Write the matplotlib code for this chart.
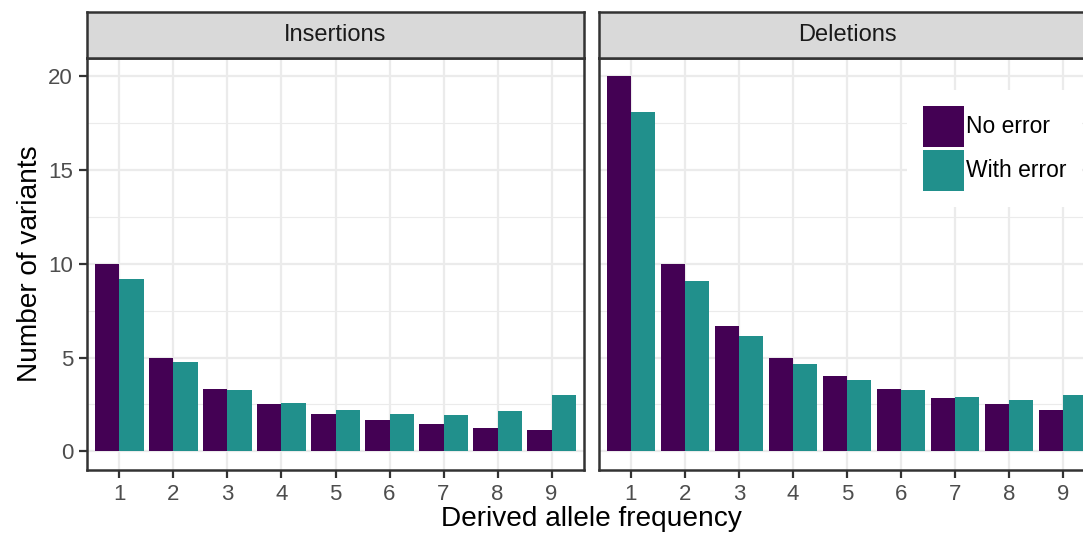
import numpy as np
import matplotlib
matplotlib.use("Agg")
import matplotlib.pyplot as plt
from matplotlib.patches import Patch

plt.rcParams['font.family'] = ['Liberation Sans', 'DejaVu Sans']

# Data
freqs = [1, 2, 3, 4, 5, 6, 7, 8, 9]
ins_no_error = [10.0, 5.0, 3.33, 2.5, 2.0, 1.67, 1.43, 1.25, 1.11]
ins_with_error = [9.2, 4.77, 3.27, 2.56, 2.18, 1.98, 1.92, 2.14, 2.99]
del_no_error = [20.0, 10.0, 6.67, 5.0, 4.0, 3.33, 2.86, 2.5, 2.22]
del_with_error = [18.1, 9.1, 6.16, 4.67, 3.8, 3.27, 2.89, 2.73, 2.99]
panels = ["Insertions", "Deletions"]
series = ["No error", "With error"]
colors = ["#440154", "#21908C"]

W, H = 1083, 536
fig = plt.figure(figsize=(W / 100, H / 100), dpi=100)

def px(x0, y0, x1, y1):
    # pixel box (top-left origin) -> figure fraction rect
    return [x0 / W, 1 - y1 / H, (x1 - x0) / W, (y1 - y0) / H]

panel_x = [(87, 584), (598.5, 1095.5)]
panel_top, panel_bot, strip_top = 57.5, 470, 12
data = [(ins_no_error, ins_with_error), (del_no_error, del_with_error)]

x = np.array(freqs)
w = 0.45
axes = []
for i, (x0, x1) in enumerate(panel_x):
    ax = fig.add_axes(px(x0, panel_top, x1, panel_bot))
    ax.set_facecolor("white")
    no_err, with_err = data[i]
    ax.bar(x - w / 2, no_err, width=w, color=colors[0], label=series[0], zorder=3)
    ax.bar(x + w / 2, with_err, width=w, color=colors[1], label=series[1], zorder=3)
    ax.set_xlim(0.4, 9.6)
    ax.set_ylim(-1, 21)
    ax.set_xticks(freqs)
    ax.set_yticks([0, 5, 10, 15, 20])
    ax.set_yticks([2.5, 7.5, 12.5, 17.5], minor=True)
    ax.grid(True, which="major", color="#EBEBEB", lw=1.6, zorder=0)
    ax.grid(True, which="minor", axis="y", color="#EBEBEB", lw=0.8, zorder=0)
    ax.tick_params(which="major", length=6, width=1.6, color="#333333",
                   labelsize=16, labelcolor="#4D4D4D", pad=4)
    ax.tick_params(which="minor", length=0)
    if i == 1:
        ax.tick_params(axis="y", which="major", length=0, labelleft=False)
    for s in ax.spines.values():
        s.set_color("#333333")
        s.set_linewidth(1.8)
        s.set_zorder(5)
    axes.append(ax)

    # facet strip
    sax = fig.add_axes(px(x0, strip_top, x1, panel_top))
    sax.set_facecolor("#D9D9D9")
    sax.set_xticks([])
    sax.set_yticks([])
    for s in sax.spines.values():
        s.set_color("#333333")
        s.set_linewidth(1.8)
    sax.text(0.5, 0.5, panels[i], ha="center", va="center", fontsize=17,
             color="#1A1A1A", transform=sax.transAxes)

handles = [Patch(facecolor=c, edgecolor="none") for c in colors]
fig.legend(handles, series, loc="upper left",
           bbox_to_anchor=(907 / W, 1 - 90 / H), fontsize=16.5,
           frameon=True, facecolor="white", edgecolor="none", framealpha=1,
           fancybox=False, borderpad=0.68, borderaxespad=0,
           handlelength=1.8, handleheight=2.4,
           handletextpad=0.1, labelspacing=0.12)

fig.text(30 / W, 1 - 264 / H, "Number of variants", rotation=90,
         ha="center", va="center", fontsize=20.2)
fig.text(591 / W, 1 - 519 / H, "Derived allele frequency",
         ha="center", va="center", fontsize=20.2)

fig.savefig("out.png", dpi=100, facecolor="white")
